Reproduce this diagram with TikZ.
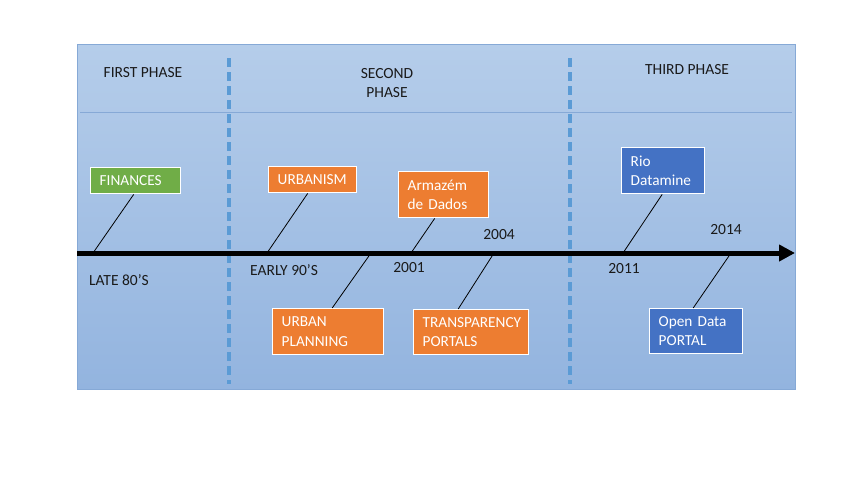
\documentclass[tikz,border=0pt]{standalone}
\usepackage{fontspec}
\setmainfont{Carlito}
\usetikzlibrary{arrows.meta}
\definecolor{bgtop}{HTML}{B5CDEA}
\definecolor{bgbot}{HTML}{93B4DF}
\definecolor{dashblue}{HTML}{5B9BD5}
\definecolor{sepline}{HTML}{86A9D6}
\definecolor{ogreen}{HTML}{70AD47}
\definecolor{oorange}{HTML}{ED7D31}
\definecolor{oblue}{HTML}{4472C4}
\definecolor{txt}{HTML}{1A1A1A}
\tikzset{
  evbox/.style={draw=white, line width=1.4pt, text=white, inner sep=0pt, anchor=north west, align=left, font=\fontsize{15.3}{19.5}\selectfont},
  lbl/.style={text=txt, font=\fontsize{15.5}{17}\selectfont, inner sep=0pt},
  ttl/.style={text=txt, font=\fontsize{15.5}{19}\selectfont, inner sep=0pt, align=center},
  conn/.style={draw=black, line width=0.8pt},
  phasesep/.style={draw=dashblue, line width=3.2pt, dash pattern=on 9pt off 5pt},
}
\begin{document}
\begin{tikzpicture}[x=1pt,y=-1pt]
\useasboundingbox (0,0) rectangle (850,479);
\fill[white] (0,0) rectangle (850,479);
\shade[top color=bgtop, bottom color=bgbot] (77,44) rectangle (795,389);
\draw[sepline, line width=0.6pt] (77,44) rectangle (795,389);
\draw[sepline, line width=0.8pt] (80,112) -- (792,112);
% phase separators
\coordinate (s1t) at (229,58); \coordinate (s1b) at (229,384);
\coordinate (s2t) at (570,58); \coordinate (s2b) at (570,384);
\draw[phasesep] (s1t) -- (s1b);
\draw[phasesep] (s2t) -- (s2b);
% titles
\node[ttl] (t1) at (143,73) {FIRST PHASE};
\node[ttl] (t2) at (387,83) {SECOND\\PHASE};
\node[ttl] (t3) at (687,70) {THIRD PHASE};
% timeline
\coordinate (tlA) at (77,253);
\coordinate (tlB) at (795,253);
\draw[line width=5pt, -{Triangle[length=16pt,width=16pt]}] (tlA) -- (tlB);
% anchor points on the timeline
\coordinate (p1) at (93,253);
\coordinate (p2) at (267,253);
\coordinate (p3) at (371,253);
\coordinate (p4) at (411,253);
\coordinate (p5) at (494,253);
\coordinate (p6) at (623,253);
\coordinate (p7) at (731,253);
% boxes
\node[evbox, fill=ogreen, minimum width=90pt, minimum height=26pt, text width=82pt] (fin) at (90,167) {\hspace*{5pt}FINANCES};
\node[evbox, fill=oorange, minimum width=88pt, minimum height=26pt, text width=80pt] (urb) at (268,166) {\hspace*{5pt}URBANISM};
\node[evbox, fill=oorange, minimum width=111pt, minimum height=46pt, text width=103pt] (upl) at (272,308) {\hspace*{5pt}URBAN\\\hspace*{5pt}PLANNING};
\node[evbox, fill=oorange, minimum width=90pt, minimum height=46pt, text width=82pt] (arm) at (398,171) {\hspace*{5pt}Armazém\\\hspace*{5pt}de Dados};
\node[evbox, fill=oorange, minimum width=115pt, minimum height=45pt, text width=107pt] (tra) at (413,309) {\hspace*{5pt}TRANSPARENCY\\\hspace*{5pt}PORTALS};
\node[evbox, fill=oblue, minimum width=83pt, minimum height=46pt, text width=75pt] (rio) at (621,147) {\hspace*{5pt}Rio\\\hspace*{5pt}Datamine};
\node[evbox, fill=oblue, minimum width=93pt, minimum height=45pt, text width=85pt] (odp) at (649,308) {\hspace*{5pt}Open Data\\\hspace*{5pt}PORTAL};
% connectors
\draw[conn] ([xshift=-2pt]fin.south) -- (p1);
\draw[conn] ([xshift=-5pt]urb.south) -- (p2);
\draw[conn] ([xshift=4pt]upl.north) -- (p3);
\draw[conn] ([xshift=-9pt]arm.south) -- (p4);
\draw[conn] ([xshift=-13pt]tra.north) -- (p5);
\draw[conn] ([xshift=-1pt]rio.south) -- (p6);
\draw[conn] ([xshift=-3pt]odp.north) -- (p7);
% labels
\node[lbl, anchor=west] (l1) at (89,280) {LATE 80’S};
\node[lbl, anchor=west] (l2) at (250,270) {EARLY 90’S};
\node[lbl] (l3) at (409,268) {2001};
\node[lbl] (l4) at (499,235) {2004};
\node[lbl] (l5) at (624,269) {2011};
\node[lbl] (l6) at (726,230) {2014};
\end{tikzpicture}
\end{document}
